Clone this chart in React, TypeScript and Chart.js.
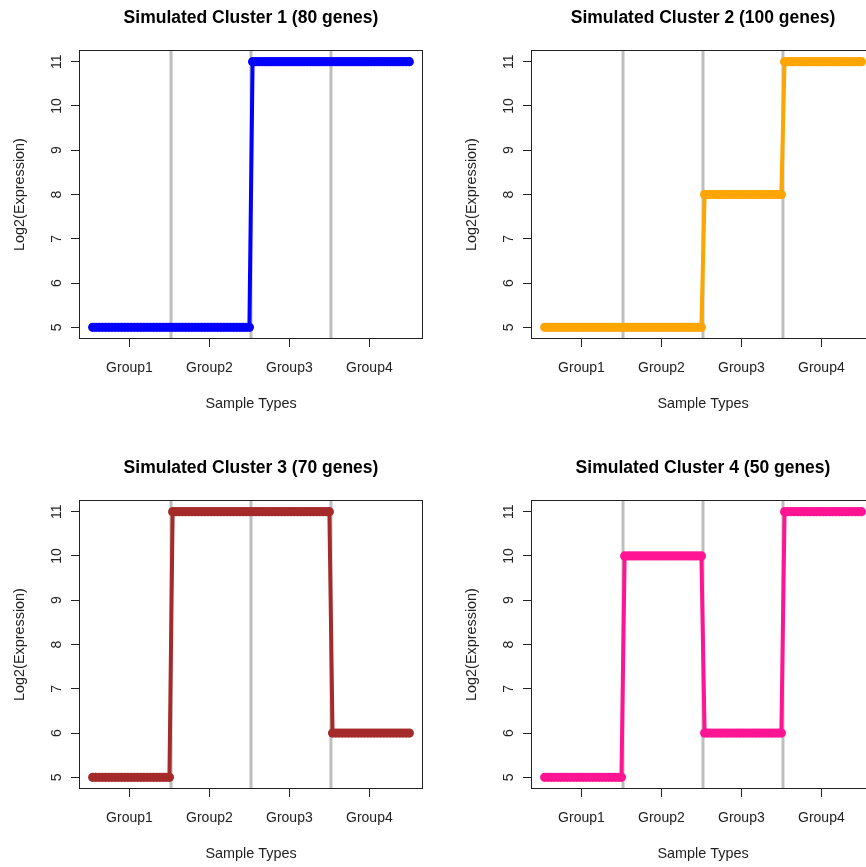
import React, { useEffect, useRef } from "react";
import { Chart, registerables } from "chart.js";

Chart.register(...registerables);

const FONT = "'Liberation Sans', Arial, Helvetica, sans-serif";

// ---- data ----
const groupLabels = ["Group1", "Group2", "Group3", "Group4"];
const samplesPerGroup = 25;
const groupTickPositions = [12.5, 37.5, 62.5, 87.5];
const groupBoundaries = [25.5, 50.5, 75.5];
const yTickValues = [5, 6, 7, 8, 9, 10, 11];

const clusterTitles = [
  "Simulated Cluster 1 (80 genes)",
  "Simulated Cluster 2 (100 genes)",
  "Simulated Cluster 3 (70 genes)",
  "Simulated Cluster 4 (50 genes)",
];
const cluster1Levels = [5, 5, 11, 11];
const cluster2Levels = [5, 5, 8, 11];
const cluster3Levels = [5, 11, 11, 6];
const cluster4Levels = [5, 10, 6, 11];
const clusterLevels = [cluster1Levels, cluster2Levels, cluster3Levels, cluster4Levels];
const clusterColors = ["#0000FF", "#FFA500", "#A52A2A", "#FF1493"];

const xLabel = "Sample Types";
const yLabel = "Log2(Expression)";

// R-style 4% axis expansion
const nSamples = samplesPerGroup * groupLabels.length;
const xPad = 0.04 * (nSamples - 1);
const X_MIN = 1 - xPad;
const X_MAX = nSamples + xPad;
const yLo = Math.min(...yTickValues);
const yHi = Math.max(...yTickValues);
const yPad = 0.04 * (yHi - yLo);
const Y_MIN = yLo - yPad;
const Y_MAX = yHi + yPad;

const PANEL_W = 452;
const PANEL_H = 450;

const boxPlugin = {
  id: "rbox",
  afterDatasetsDraw(chart: any) {
    const { ctx, chartArea: a } = chart;
    ctx.save();
    ctx.strokeStyle = "#222";
    ctx.lineWidth = 1;
    ctx.strokeRect(Math.round(a.left) - 0.5, Math.round(a.top) - 0.5, Math.round(a.right - a.left) + 1, Math.round(a.bottom - a.top) + 1);
    ctx.restore();
  },
};

function Panel({ idx, left, top }: { idx: number; left: number; top: number }) {
  const ref = useRef<HTMLCanvasElement | null>(null);
  useEffect(() => {
    if (!ref.current) return;
    const levels = clusterLevels[idx];
    const color = clusterColors[idx];
    const points: { x: number; y: number }[] = [];
    levels.forEach((lv, g) => {
      for (let i = 0; i < samplesPerGroup; i++) {
        points.push({ x: g * samplesPerGroup + i + 1, y: lv });
      }
    });
    const datasets: any[] = [
      {
        data: points,
        borderColor: color,
        backgroundColor: color,
        pointBackgroundColor: color,
        borderWidth: 4,
        pointRadius: 4.6,
        pointBorderWidth: 0,
        pointHoverRadius: 4.6,
        tension: 0,
        order: 0,
      },
      ...groupBoundaries.map((b) => ({
        data: [
          { x: b, y: Y_MIN },
          { x: b, y: Y_MAX },
        ],
        borderColor: "#BEBEBE",
        borderWidth: 3,
        pointRadius: 0,
        pointHoverRadius: 0,
        order: 1,
      })),
    ];
    const chart = new Chart(ref.current, {
      type: "line",
      data: { datasets },
      plugins: [boxPlugin],
      options: {
        animation: false,
        responsive: false,
        events: [],
        layout: { padding: { left: 0, right: 30, top: 0, bottom: 0 } },
        plugins: {
          legend: { display: false },
          tooltip: { enabled: false },
          title: {
            display: true,
            text: clusterTitles[idx],
            fullSize: false,
            color: "#000",
            font: { family: FONT, size: 17.5, weight: "bold", lineHeight: 1.2 },
            padding: { top: 7.5, bottom: 22.5 },
          },
        },
        scales: {
          x: {
            type: "linear",
            min: X_MIN,
            max: X_MAX,
            afterBuildTicks: (scale: any) => {
              scale.ticks = groupTickPositions.map((v) => ({ value: v }));
            },
            afterFit: (scale: any) => {
              scale.height = 112;
            },
            ticks: {
              autoSkip: false,
              maxRotation: 0,
              minRotation: 0,
              padding: 12.5,
              color: "#222",
              font: { family: FONT, size: 14 },
              callback: (_v: any, i: number) => groupLabels[i],
            },
            grid: { drawOnChartArea: false, drawTicks: true, tickLength: 9, color: "#222", lineWidth: 1 },
            border: { display: false },
            title: {
              display: true,
              text: xLabel,
              color: "#222",
              font: { family: FONT, size: 14.4, lineHeight: 1.2 },
              padding: { top: 0, bottom: 37.5 },
            },
          },
          y: {
            type: "linear",
            min: Y_MIN,
            max: Y_MAX,
            afterBuildTicks: (scale: any) => {
              scale.ticks = yTickValues.map((v) => ({ value: v }));
            },
            afterFit: (scale: any) => {
              scale.width = 80;
            },
            ticks: {
              autoSkip: false,
              minRotation: 90,
              maxRotation: 90,
              crossAlign: "center",
              padding: 6.5,
              color: "#222",
              font: { family: FONT, size: 14 },
              callback: (v: any) => String(v),
            },
            grid: { drawOnChartArea: false, drawTicks: true, tickLength: 9, color: "#222", lineWidth: 1 },
            border: { display: false },
            title: {
              display: true,
              text: yLabel,
              color: "#222",
              font: { family: FONT, size: 14.4, lineHeight: 1.2 },
              padding: { top: 11.5, bottom: 0 },
            },
          },
        },
      } as any,
    });
    return () => chart.destroy();
  }, [idx]);
  return (
    <canvas
      ref={ref}
      width={PANEL_W}
      height={PANEL_H}
      style={{ position: "absolute", left, top, width: PANEL_W, height: PANEL_H }}
    />
  );
}

export default function App() {
  return (
    <div
      style={{
        position: "absolute",
        left: 0,
        top: 0,
        width: 866,
        height: 867,
        overflow: "hidden",
        background: "#fff",
      }}
    >
      <Panel idx={0} left={0} top={0} />
      <Panel idx={1} left={PANEL_W} top={0} />
      <Panel idx={2} left={0} top={PANEL_H} />
      <Panel idx={3} left={PANEL_W} top={PANEL_H} />
    </div>
  );
}
